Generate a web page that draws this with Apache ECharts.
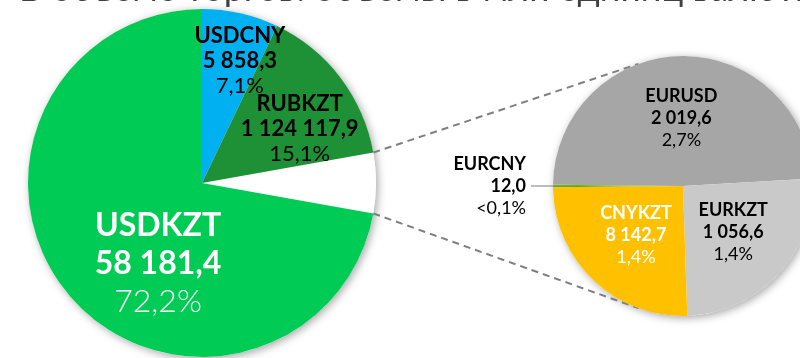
<!DOCTYPE html>
<html>
<head>
<meta charset="utf-8">
<script src="https://cdn.jsdelivr.net/npm/echarts@6/dist/echarts.min.js"></script>
<style>
  html, body { margin: 0; padding: 0; background: #ffffff; }
  #chart { width: 800px; height: 358px; }
</style>
</head>
<body>
<div id="chart"></div>
<script>
// Main currency pairs (left pie): volume in mn of base currency, share of total, %
const mainPairs   = ['USDKZT', 'USDCNY', 'RUBKZT'];
const mainVolumes = [58181.4, 5858.3, 1124117.9];
const mainShares  = [72.2, 7.1, 15.1];

// Breakdown of the remaining pairs (right pie)
const otherPairs   = ['EURCNY', 'EURUSD', 'EURKZT', 'CNYKZT'];
const otherVolumes = [12.0, 2019.6, 1056.6, 8142.7];
const otherShares  = [0.016, 2.7, 1.4, 1.4];

const titleText = 'В объеме торгов: объемы в млн единиц валюты';

// ---- layout & styles ----
const LEFT  = { cx: 202, cy: 183, r: 174 };
const RIGHT = { cx: 683, cy: 186, r: 130 };
const FONT = 'Lato, "Noto Sans", sans-serif';

const mainStyle = {
  USDKZT: { color: '#00CC55', text: '#ffffff', size: 32, lh: 38, offset: [25, 23] },
  USDCNY: { color: '#00B0F0', text: '#000000', size: 22, lh: 25, offset: [18, -34] },
  RUBKZT: { color: '#1E9136', text: '#000000', size: 22, lh: 25, offset: [26, 0] }
};
const otherStyle = {
  EURCNY: { color: { type: 'linear', x: 0, y: 0, x2: 0, y2: 1,
            colorStops: [{ offset: 0, color: '#7CC425' }, { offset: 1, color: '#5A981C' }] },
            text: '#000000', outside: true },
  EURUSD: { color: '#A6A6A6', text: '#000000' },
  EURKZT: { color: '#C9C9C9', text: '#000000' },
  CNYKZT: { color: '#FFC000', text: '#ffffff' }
};

function fmtNum(v) {
  const parts = v.toFixed(1).split('.');
  return parts[0].replace(/\B(?=(\d{3})+(?!\d))/g, ' ') + ',' + parts[1];
}
function fmtPct(v) {
  return v < 0.1 ? '<0,1%' : v.toFixed(1).replace('.', ',') + '%';
}
function richFor(color, size, lh, pctWeight) {
  return {
    n: { color, fontSize: size, lineHeight: lh, fontWeight: 'bold', fontFamily: FONT },
    v: { color, fontSize: size, lineHeight: lh, fontWeight: 'bold', fontFamily: FONT },
    p: { color, fontSize: size, lineHeight: lh, fontWeight: pctWeight, fontFamily: FONT }
  };
}

// share of the "other" group = remainder of the main pairs
const otherTotal = +(100 - mainShares.reduce((a, b) => a + b, 0)).toFixed(3);
const leftHalf = otherTotal / 100 * 180;                 // half-angle of the split slice, deg
const rightSum = otherShares.reduce((a, b) => a + b, 0);
const rightStart = 180 + otherShares[0] / rightSum * 180;

const leftData = [{
  name: 'other', value: otherTotal,
  itemStyle: { color: '#ffffff' }, label: { show: false }
}].concat(mainPairs.map((p, i) => {
  const s = mainStyle[p];
  return {
    name: p, value: mainShares[i],
    itemStyle: { color: s.color },
    label: {
      formatter: '{n|' + p + '}\n{v|' + fmtNum(mainVolumes[i]) + '}\n{p|' + fmtPct(mainShares[i]) + '}',
      rich: richFor(s.text, s.size, s.lh, p === 'USDKZT' ? 300 : 'normal'),
      offset: s.offset
    }
  };
}));

const rightData = otherPairs.map((p, i) => {
  const s = otherStyle[p];
  const item = {
    name: p, value: otherShares[i],
    itemStyle: { color: s.color },
    label: {
      formatter: '{n|' + p + '}\n{v|' + fmtNum(otherVolumes[i]) + '}\n{p|' + fmtPct(otherShares[i]) + '}',
      rich: richFor(s.text, 18, 22, 'normal')
    }
  };
  if (s.outside) {
    item.label.position = 'outside';
    item.labelLine = { show: true, length: 10, length2: 12, lineStyle: { color: '#7F7F7F', width: 1 } };
  }
  return item;
});

// connector lines from the split slice edges to the breakdown pie
const rad = Math.PI / 180;
const linkAngle = 110;
function leftPoint(sign) {
  return [LEFT.cx + LEFT.r * Math.cos(leftHalf * rad), LEFT.cy - sign * LEFT.r * Math.sin(leftHalf * rad)];
}
function rightPoint(sign) {
  return [RIGHT.cx + RIGHT.r * Math.cos(linkAngle * rad), RIGHT.cy - sign * RIGHT.r * Math.sin(linkAngle * rad)];
}
const dash = { stroke: '#7F7F7F', lineWidth: 2, lineDash: [7, 5] };

const chart = echarts.init(document.getElementById('chart'), null, { renderer: 'canvas' });
chart.setOption({
  animation: false,
  backgroundColor: '#ffffff',
  title: {
    text: titleText, left: 14, top: -34, z: 0,
    textStyle: { fontFamily: FONT, fontSize: 36, fontWeight: 'normal', color: '#404040' }
  },
  graphic: [
    { type: 'circle', z: 0, silent: true,
      shape: { cx: LEFT.cx, cy: LEFT.cy, r: LEFT.r },
      style: { fill: '#ffffff', shadowBlur: 8, shadowColor: 'rgba(0,0,0,0.35)', shadowOffsetX: 2, shadowOffsetY: 2 } },
    { type: 'circle', z: 0, silent: true,
      shape: { cx: RIGHT.cx, cy: RIGHT.cy, r: RIGHT.r },
      style: { fill: '#ffffff', shadowBlur: 8, shadowColor: 'rgba(0,0,0,0.35)', shadowOffsetX: 2, shadowOffsetY: 2 } },
    { type: 'line', z: 1, silent: true,
      shape: { x1: leftPoint(1)[0], y1: leftPoint(1)[1], x2: rightPoint(1)[0], y2: rightPoint(1)[1] }, style: dash },
    { type: 'line', z: 1, silent: true,
      shape: { x1: leftPoint(-1)[0], y1: leftPoint(-1)[1], x2: rightPoint(-1)[0], y2: rightPoint(-1)[1] }, style: dash }
  ],
  series: [
    {
      type: 'pie', z: 2,
      center: [LEFT.cx, LEFT.cy], radius: LEFT.r,
      startAngle: leftHalf, clockwise: true,
      silent: true,
      avoidLabelOverlap: false,
      labelLayout: { hideOverlap: false },
      label: { show: true, position: 'inside' },
      labelLine: { show: false },
      emphasis: { disabled: true },
      data: leftData
    },
    {
      type: 'pie', z: 2,
      center: [RIGHT.cx, RIGHT.cy], radius: RIGHT.r,
      startAngle: rightStart, clockwise: true,
      silent: true,
      avoidLabelOverlap: false,
      labelLayout: { hideOverlap: false },
      label: { show: true, position: 'inside' },
      labelLine: { show: false },
      emphasis: { disabled: true },
      data: rightData
    }
  ]
});
</script>
</body>
</html>
